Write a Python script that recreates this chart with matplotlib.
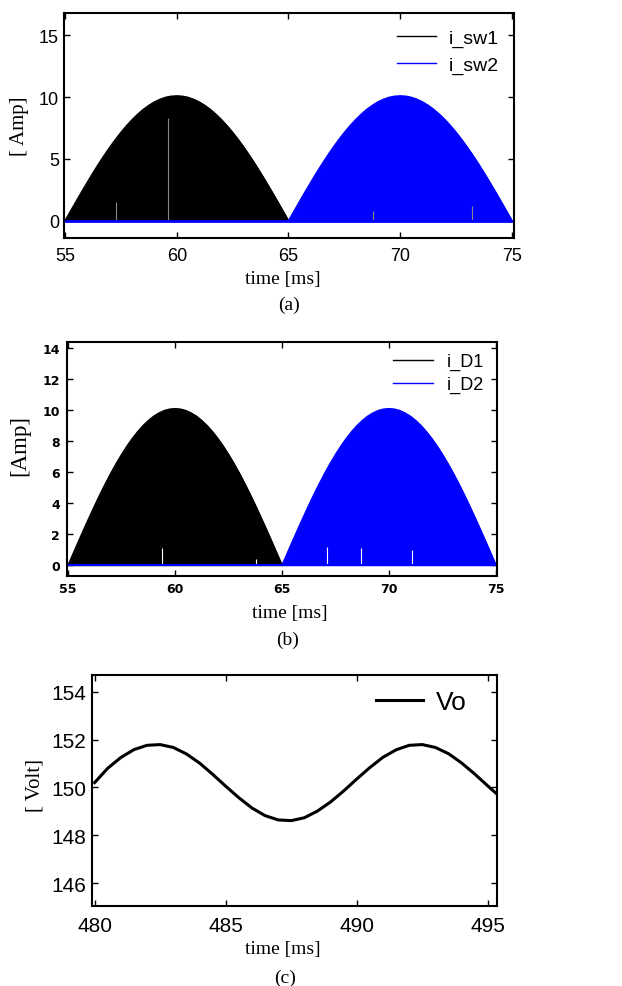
import matplotlib
matplotlib.use('Agg')
import matplotlib.pyplot as plt

# Data
# envelope of the switching currents (one half-cycle, 0.25 ms steps)
t_sw1 = [55.0, 55.25, 55.5, 55.75, 56.0, 56.25, 56.5, 56.75, 57.0, 57.25, 57.5,
         57.75, 58.0, 58.25, 58.5, 58.75, 59.0, 59.25, 59.5, 59.75, 60.0,
         60.25, 60.5, 60.75, 61.0, 61.25, 61.5, 61.75, 62.0, 62.25, 62.5,
         62.75, 63.0, 63.25, 63.5, 63.75, 64.0, 64.25, 64.5, 64.75, 65.0]
t_sw2 = [65.0, 65.25, 65.5, 65.75, 66.0, 66.25, 66.5, 66.75, 67.0, 67.25, 67.5,
         67.75, 68.0, 68.25, 68.5, 68.75, 69.0, 69.25, 69.5, 69.75, 70.0,
         70.25, 70.5, 70.75, 71.0, 71.25, 71.5, 71.75, 72.0, 72.25, 72.5,
         72.75, 73.0, 73.25, 73.5, 73.75, 74.0, 74.25, 74.5, 74.75, 75.0]
i_sw1 = [0.0, 0.79, 1.58, 2.36, 3.12, 3.87, 4.59, 5.28, 5.94, 6.56, 7.14,
         7.68, 8.17, 8.61, 9.0, 9.33, 9.61, 9.82, 9.98, 10.07, 10.1,
         10.07, 9.98, 9.82, 9.61, 9.33, 9.0, 8.61, 8.17, 7.68, 7.14,
         6.56, 5.94, 5.28, 4.59, 3.87, 3.12, 2.36, 1.58, 0.79, 0.0]
i_sw2 = [0.0, 0.79, 1.58, 2.36, 3.12, 3.87, 4.59, 5.28, 5.94, 6.56, 7.14,
         7.68, 8.17, 8.61, 9.0, 9.33, 9.61, 9.82, 9.98, 10.07, 10.1,
         10.07, 9.98, 9.82, 9.61, 9.33, 9.0, 8.61, 8.17, 7.68, 7.14,
         6.56, 5.94, 5.28, 4.59, 3.87, 3.12, 2.36, 1.58, 0.79, 0.0]
i_D1 = [0.0, 0.79, 1.58, 2.36, 3.12, 3.87, 4.59, 5.28, 5.94, 6.56, 7.14,
        7.68, 8.17, 8.61, 9.0, 9.33, 9.61, 9.82, 9.98, 10.07, 10.1,
        10.07, 9.98, 9.82, 9.61, 9.33, 9.0, 8.61, 8.17, 7.68, 7.14,
        6.56, 5.94, 5.28, 4.59, 3.87, 3.12, 2.36, 1.58, 0.79, 0.0]
i_D2 = [0.0, 0.79, 1.58, 2.36, 3.12, 3.87, 4.59, 5.28, 5.94, 6.56, 7.14,
        7.68, 8.17, 8.61, 9.0, 9.33, 9.61, 9.82, 9.98, 10.07, 10.1,
        10.07, 9.98, 9.82, 9.61, 9.33, 9.0, 8.61, 8.17, 7.68, 7.14,
        6.56, 5.94, 5.28, 4.59, 3.87, 3.12, 2.36, 1.58, 0.79, 0.0]

# short gaps visible in the switching pattern
gap_a_t = [57.3, 59.6, 68.8, 73.2]
gap_a_h = [1.5, 8.3, 0.8, 1.2]
gap_b_t = [59.4, 63.8, 67.1, 68.7, 71.1]
gap_b_h = [1.1, 0.4, 1.2, 1.1, 1.0]

# output voltage
t_vo = [480.0, 480.5, 481.0, 481.5, 482.0, 482.5, 483.0, 483.5, 484.0, 484.5,
        485.0, 485.5, 486.0, 486.5, 487.0, 487.5, 488.0, 488.5, 489.0, 489.5,
        490.0, 490.5, 491.0, 491.5, 492.0, 492.5, 493.0, 493.5, 494.0, 494.5,
        495.0, 495.5]
vo = [150.2, 150.8, 151.25, 151.58, 151.76, 151.79, 151.67, 151.4, 151.02, 150.55,
      150.05, 149.57, 149.14, 148.82, 148.64, 148.61, 148.73, 149.01, 149.39, 149.85,
      150.35, 150.83, 151.26, 151.57, 151.76, 151.79, 151.67, 151.41, 151.02, 150.56,
      150.06, 149.57]

SANS = 'Liberation Sans'
SERIF = 'Liberation Serif'

fig = plt.figure(figsize=(6.22, 9.87), dpi=100)


def style_axes(ax, tick_size, xpad, ypad, family=SANS, weight='normal'):
    for s in ax.spines.values():
        s.set_linewidth(1.5)
    ax.tick_params(direction='in', top=True, right=True, length=4, width=1,
                   labelsize=tick_size)
    ax.tick_params(axis='x', pad=xpad)
    ax.tick_params(axis='y', pad=ypad)
    for lab in ax.get_xticklabels() + ax.get_yticklabels():
        lab.set_fontfamily(family)
        lab.set_fontweight(weight)


def labels(ax, ylabel, ysize, ylx, yly, xlx, xly, tag, tx, ty):
    ax.set_xlabel('time [ms]', family=SERIF, fontsize=14)
    ax.xaxis.set_label_coords(xlx, xly)
    ax.xaxis.label.set_verticalalignment('center')
    ax.set_ylabel(ylabel, family=SERIF, fontsize=ysize)
    ax.yaxis.set_label_coords(ylx, yly)
    ax.yaxis.label.set_verticalalignment('center')
    ax.text(tx, ty, tag, transform=ax.transAxes, ha='center', va='center',
            family=SERIF, fontsize=14)


# ---- (a) switch currents
ax1 = fig.add_axes([64 / 622, 1 - 239 / 987, 450 / 622, 225 / 987])
ax1.fill_between(t_sw1, 0, i_sw1, color='black', lw=0.8)
ax1.fill_between(t_sw2, 0, i_sw2, color='#0000ff', lw=0.8)
ax1.vlines(gap_a_t, 0, gap_a_h, colors='#888888', lw=0.8)
ax1.plot(t_sw1, i_sw1, color='black', lw=1, label='i_sw1')
ax1.plot(t_sw2, i_sw2, color='#0000ff', lw=1, label='i_sw2')
ax1.plot([55, 75], [0, 0], color='#0000ff', lw=2)
ax1.set_xlim(54.955, 75.09)
ax1.set_ylim(-1.4, 16.8)
ax1.set_xticks([55, 60, 65, 70, 75])
ax1.set_yticks([0, 5, 10, 15])
style_axes(ax1, 13, 6.5, 3.6)
ax1.legend(loc='upper right', bbox_to_anchor=(0.967, 0.93), frameon=False,
           borderaxespad=0, borderpad=0, handlelength=2.0, handletextpad=0.67,
           labelspacing=0.5, prop={'family': SANS, 'size': 14})
labels(ax1, '[ Amp]', 15, -0.098, 0.5, 0.487, -0.182, '(a)', 0.5, -0.293)

# ---- (b) diode currents
ax2 = fig.add_axes([67 / 622, 1 - 577 / 987, 430 / 622, 234 / 987])
ax2.fill_between(t_sw1, 0, i_D1, color='black', lw=0.8)
ax2.fill_between(t_sw2, 0, i_D2, color='#0000ff', lw=0.8)
ax2.vlines(gap_b_t, 0, gap_b_h, colors='white', lw=0.8)
ax2.plot(t_sw1, i_D1, color='black', lw=1, label='i_D1')
ax2.plot(t_sw2, i_D2, color='#0000ff', lw=1, label='i_D2')
ax2.plot([55, 75], [0, 0], color='#0000ff', lw=1.5)
ax2.set_xlim(54.95, 75.05)
ax2.set_ylim(-0.7, 14.4)
ax2.set_xticks([55, 60, 65, 70, 75])
ax2.set_yticks([0, 2, 4, 6, 8, 10, 12, 14])
style_axes(ax2, 9, 4.3, 5, family='DejaVu Sans', weight='bold')
ax2.legend(loc='upper right', bbox_to_anchor=(0.97, 0.952), frameon=False,
           borderaxespad=0, borderpad=0, handlelength=2.2, handletextpad=0.78,
           labelspacing=0.3, prop={'family': SANS, 'size': 13})
labels(ax2, '[Amp]', 16.5, -0.109, 0.56, 0.519, -0.154, '(b)', 0.514, -0.269)

# ---- (c) output voltage
ax3 = fig.add_axes([92 / 622, 1 - 907 / 987, 405 / 622, 231 / 987])
ax3.plot(t_vo, vo, color='black', lw=2.2, label='Vo')
ax3.set_xlim(479.9, 495.35)
ax3.set_ylim(145.04, 154.7)
ax3.set_xticks([480, 485, 490, 495])
ax3.set_yticks([146, 148, 150, 152, 154])
style_axes(ax3, 15, 7, 4.3)
ax3.legend(loc='upper right', bbox_to_anchor=(0.926, 0.935), frameon=False,
           borderaxespad=0, borderpad=0, handlelength=1.8, handletextpad=0.5,
           prop={'family': SANS, 'size': 19})
labels(ax3, '[ Volt]', 15, -0.141, 0.528, 0.472, -0.186, '(c)', 0.477, -0.307)

fig.savefig('out.png', dpi=100)
